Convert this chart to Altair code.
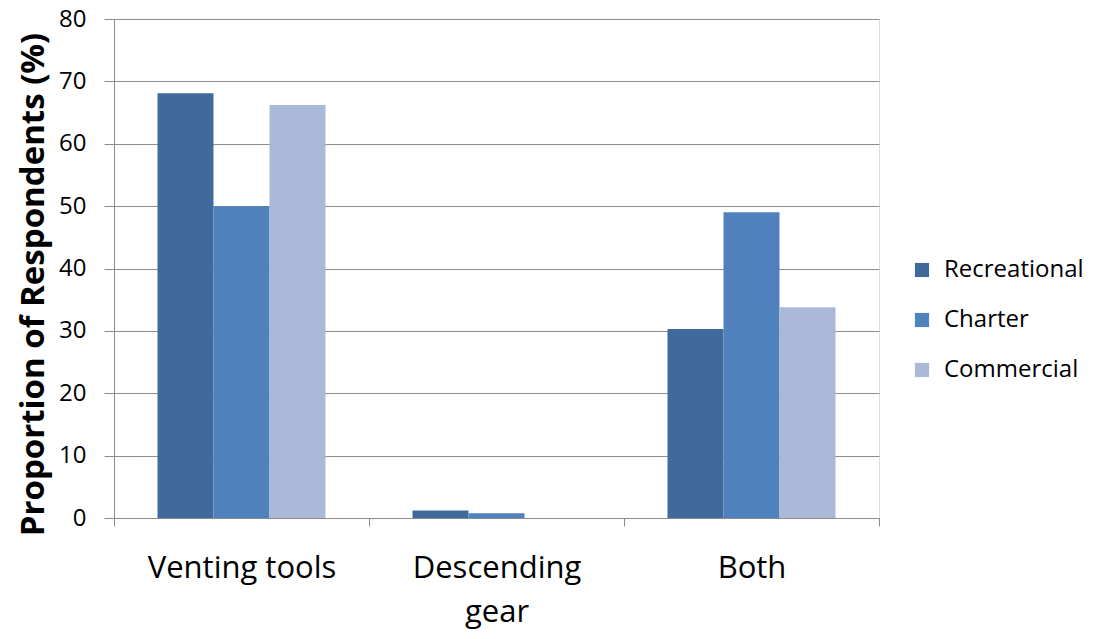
import altair as alt
import pandas as pd

categories = ["Venting tools", "Descending gear", "Both"]
groups = ["Recreational", "Charter", "Commercial"]
recreational = [68.1, 1.2, 30.3]
charter = [50.0, 0.75, 49.0]
commercial = [66.2, 0.0, 33.8]
colors = ["#416A9C", "#4F81BD", "#AAB9D8"]

rows = []
for i, c in enumerate(categories):
    for g, vals in zip(groups, [recreational, charter, commercial]):
        rows.append({"category": c, "group": g, "value": vals[i]})
df = pd.DataFrame(rows)

FONT = "Open Sans"

chart = alt.Chart(df).mark_bar().encode(
    x=alt.X("category:N", sort=categories,
            scale=alt.Scale(paddingInner=0, paddingOuter=0),
            axis=alt.Axis(title=None, tickBand="extent", labelAngle=0,
                          labelFontSize=31, labelFont=FONT, labelColor="#000000",
                          labelPadding=27, labelLineHeight=44, labelBaseline="top",
                          labelLimit=400, labelOverlap=False,
                          labelExpr="datum.value == 'Descending gear' ? ['Descending','gear'] : datum.value",
                          domainColor="#8C8C8C", tickColor="#8C8C8C", tickSize=8,
                          grid=False)),
    xOffset=alt.XOffset("group:N", sort=groups,
                        scale=alt.Scale(paddingInner=0, paddingOuter=0.7768)),
    y=alt.Y("value:Q", scale=alt.Scale(domain=[0, 80], nice=False),
            axis=alt.Axis(title="Proportion of Respondents (%)", values=list(range(0, 81, 10)),
                          titleFontSize=33, titleFont=FONT, titleFontWeight="bold",
                          titleColor="#000000", titlePadding=8, titleY=265,
                          labelFontSize=24, labelFont=FONT, labelColor="#000000",
                          labelPadding=18, tickSize=10,
                          domainColor="#8C8C8C", tickColor="#8C8C8C",
                          gridColor="#8C8C8C", gridWidth=1)),
    color=alt.Color("group:N", sort=groups,
                    scale=alt.Scale(domain=groups, range=colors),
                    legend=alt.Legend(title=None, orient="none", legendX=796, legendY=239,
                                      labelFontSize=24, labelFont=FONT, labelColor="#000000",
                                      labelLimit=300,
                                      symbolType="square", symbolSize=200, symbolStrokeWidth=0,
                                      rowPadding=26, labelOffset=10)),
).properties(
    width=765, height=499,
    padding={"left": 106, "top": 11, "right": 208, "bottom": 112},
    autosize=alt.AutoSizeParams(type="none"),
).configure_view(stroke=None).configure(background="#FFFFFF")

chart.save("out.html", embed_options={"renderer": "svg", "actions": False})
